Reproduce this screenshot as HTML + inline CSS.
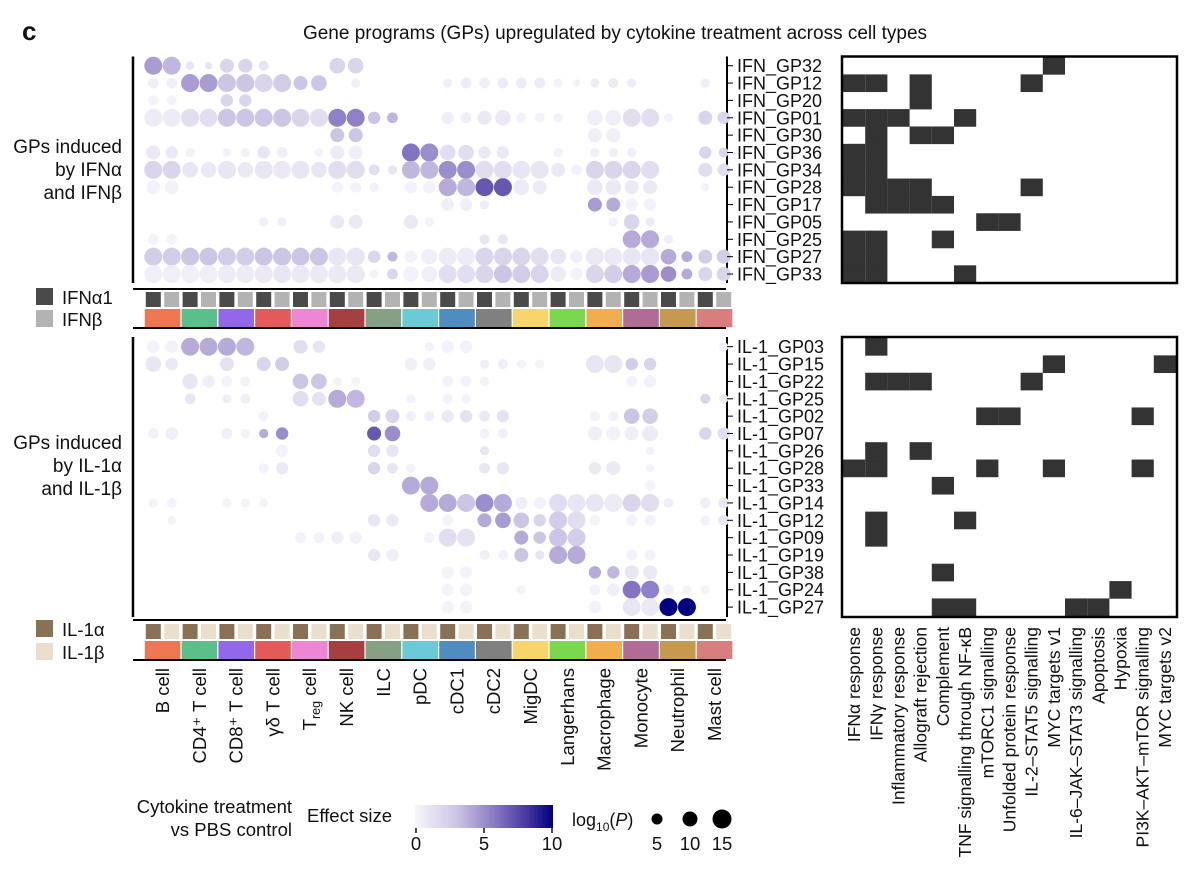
<!DOCTYPE html>
<html><head><meta charset="utf-8"><style>
html,body{margin:0;padding:0;background:#fff}
svg text{font-family:"Liberation Sans",sans-serif;fill:#111}
</style></head><body>
<svg id="fig" width="1200" height="891" viewBox="0 0 1200 891" xmlns="http://www.w3.org/2000/svg">
<text x="22" y="40" font-size="26" font-weight="bold">c</text>
<text x="615" y="39" font-size="19" text-anchor="middle">Gene programs (GPs) upregulated by cytokine treatment across cell types</text>
<g font-size="19" text-anchor="end">
<text x="122" y="153">GPs induced</text><text x="122" y="176">by IFNα</text><text x="122" y="199">and IFNβ</text></g>
<g font-size="19" text-anchor="end">
<text x="122" y="449">GPs induced</text><text x="122" y="472">by IL-1α</text><text x="122" y="495">and IL-1β</text></g>
<g>
<rect x="36" y="288" width="17" height="17" fill="#4a4a4a"/><text x="62" y="304" font-size="18.5">IFNα1</text>
<rect x="36" y="310" width="17" height="17" fill="#b3b3b3"/><text x="62" y="326" font-size="18.5">IFNβ</text></g>
<g>
<rect x="36" y="620" width="17" height="17" fill="#8a7156"/><text x="62" y="636" font-size="18.5">IL-1α</text>
<rect x="36" y="643" width="17" height="17" fill="#eadfcc"/><text x="62" y="659" font-size="18.5">IL-1β</text></g>
<g id="plot"></g>
<g>
<text x="292" y="813" font-size="18.5" text-anchor="end">Cytokine treatment</text>
<text x="292" y="836" font-size="18.5" text-anchor="end">vs PBS control</text>
<text x="307" y="822" font-size="18.5">Effect size</text>
<defs><linearGradient id="grad" x1="0" x2="1" y1="0" y2="0">
<stop offset="0" stop-color="#f7f6fb"/><stop offset="0.3" stop-color="#cdc5e4"/><stop offset="0.6" stop-color="#8473c0"/><stop offset="0.8" stop-color="#4b3aa0"/><stop offset="1" stop-color="#000080"/></linearGradient></defs>
<rect x="415" y="805" width="138" height="23" fill="url(#grad)"/>
<g stroke="#111" stroke-width="1.5"><line x1="416" y1="828" x2="416" y2="833"/><line x1="484" y1="828" x2="484" y2="833"/><line x1="552" y1="828" x2="552" y2="833"/></g>
<g font-size="18.5" text-anchor="middle"><text x="416" y="850">0</text><text x="484" y="850">5</text><text x="552" y="850">10</text></g>
<text x="572" y="826" font-size="18">log<tspan font-size="12" dy="5">10</tspan><tspan dy="-5">(</tspan><tspan font-style="italic">P</tspan>)</text>
<circle cx="657" cy="819" r="5.5" fill="#000"/><circle cx="690" cy="819" r="7.5" fill="#000"/><circle cx="722" cy="819" r="9.5" fill="#000"/>
<g font-size="18.5" text-anchor="middle"><text x="657" y="850">5</text><text x="690" y="850">10</text><text x="722" y="850">15</text></g>
</g>
</svg>
<script>
const cellTypes=["B cell","CD4⁺ T cell","CD8⁺ T cell","γδ T cell","Treg cell","NK cell","ILC","pDC","cDC1","cDC2","MigDC","Langerhans","Macrophage","Monocyte","Neutrophil","Mast cell"];
const cellColors=["#ee7752","#5bbf8a","#9467e8","#e45a5a","#ee86d6","#a63f3f","#86a086","#6acbd6","#4f8cbf","#808080","#f7d56b","#7ad84f","#f2ae4e","#b06b97","#c69a4e","#d87e7e"];
const ifnRows=["IFN_GP32","IFN_GP12","IFN_GP20","IFN_GP01","IFN_GP30","IFN_GP36","IFN_GP34","IFN_GP28","IFN_GP17","IFN_GP05","IFN_GP25","IFN_GP27","IFN_GP33"];
const il1Rows=["IL-1_GP03","IL-1_GP15","IL-1_GP22","IL-1_GP25","IL-1_GP02","IL-1_GP07","IL-1_GP26","IL-1_GP28","IL-1_GP33","IL-1_GP14","IL-1_GP12","IL-1_GP09","IL-1_GP19","IL-1_GP38","IL-1_GP24","IL-1_GP27"];
const pathways=["IFNα response","IFNγ response","Inflammatory response","Allograft rejection","Complement","TNF signalling through NF-κB","mTORC1 signalling","Unfolded protein response","IL-2–STAT5 signalling","MYC targets v1","IL-6–JAK–STAT3 signalling","Apoptosis","Hypoxia","PI3K–AKT–mTOR signalling","MYC targets v2"];
// dots: [row, column, effect size, log10P]
const ifnDots=[
[0,0,4.5,15],[0,1,3.5,15],[0,2,1,3],[0,3,1,2],[0,4,2,10],[0,5,2,10],[0,6,1,5],[0,10,2,12],[0,11,2,12],
[1,0,0.5,6],[1,1,0.5,6],[1,2,4.5,15],[1,3,4.5,15],[1,4,3,15],[1,5,3,15],[1,6,2,15],[1,7,2.5,15],[1,8,3,10],[1,9,3,12],[1,11,0.5,4],[1,16,0.5,4],[1,17,0.7,6],[1,18,0.5,6],[1,19,0.7,6],[1,20,0.7,6],[1,21,0.7,6],[1,22,0.3,4],[1,23,0.3,2],[1,24,0.7,4],[1,25,0.7,5],[1,26,0.7,4],[1,30,0.5,4],
[2,0,0.3,5],[2,1,0.3,5],[2,4,2,8],[2,5,2,8],
[3,0,0.7,15],[3,1,0.7,15],[3,2,1.5,15],[3,3,1.5,15],[3,4,3,15],[3,5,3,15],[3,6,3,15],[3,7,3,15],[3,8,2,15],[3,9,1.5,15],[3,10,5.5,15],[3,11,5.5,15],[3,12,3,8],[3,13,3.5,6],[3,16,0.5,8],[3,17,0.5,6],[3,18,0.8,10],[3,19,0.8,12],[3,20,0.3,5],[3,21,0.3,5],[3,22,0.3,4],[3,24,0.5,12],[3,25,0.5,12],[3,26,1.5,15],[3,27,1.5,15],[3,28,0.3,4],[3,30,2,10],[3,31,2,8],
[4,10,3,10],[4,11,3,10],[4,24,0.5,10],[4,25,0.5,10],
[5,0,0.8,10],[5,1,0.8,8],[5,2,0.3,4],[5,4,0.3,3],[5,5,0.3,4],[5,6,1,8],[5,7,0.5,6],[5,9,0.3,3],[5,10,0.7,10],[5,11,0.5,10],[5,14,6,15],[5,15,5,15],[5,16,1.5,12],[5,17,1.5,12],[5,18,0.8,8],[5,19,0.8,8],[5,22,0.3,4],[5,24,0.5,4],[5,25,0.5,4],[5,26,0.5,4],[5,30,2,8],[5,31,2,5],
[6,0,2,15],[6,1,2,15],[6,2,1,12],[6,3,0.8,12],[6,4,1,15],[6,5,0.8,12],[6,6,1,15],[6,7,0.8,15],[6,8,1,15],[6,9,1,12],[6,10,1.5,15],[6,11,1.5,15],[6,12,1.5,6],[6,13,1,4],[6,14,3.5,15],[6,15,3.5,15],[6,16,5,15],[6,17,5,15],[6,18,1.5,15],[6,19,1.5,15],[6,20,1,15],[6,21,1,15],[6,22,0.8,10],[6,23,0.3,6],[6,24,2,15],[6,25,2,15],[6,26,2,15],[6,27,1.5,15],[6,30,1.5,10],[6,31,1.5,8],
[7,0,0.3,10],[7,1,0.3,10],[7,10,0.3,6],[7,11,0.3,6],[7,12,0.3,4],[7,14,0.3,8],[7,15,0.3,8],[7,16,4,15],[7,17,3.5,15],[7,18,7,15],[7,19,7,15],[7,20,0.7,12],[7,21,0.7,10],[7,24,0.8,12],[7,25,0.8,12],[7,26,0.8,10],[7,27,0.8,10],[7,30,0.3,3],
[8,16,0.5,8],[8,17,0.5,8],[8,18,0.5,4],[8,24,4.5,10],[8,25,4,10],[8,26,0.3,8],[8,27,0.3,8],
[9,6,0.5,4],[9,7,0.5,4],[9,10,0.8,10],[9,11,0.8,10],[9,14,0.8,10],[9,15,0.3,4],[9,25,0.3,4],[9,26,2,12],[9,27,0.7,4],
[10,0,0.2,6],[10,1,0.2,6],[10,18,1,5],[10,19,1,5],[10,26,4,15],[10,27,4,15],[10,28,0.5,4],
[11,0,2.5,15],[11,1,2.5,15],[11,2,3,15],[11,3,3,15],[11,4,2.5,15],[11,5,2.5,15],[11,6,3,15],[11,7,3,15],[11,8,3,15],[11,9,3,15],[11,10,1,15],[11,11,1,15],[11,12,2,8],[11,13,3.5,5],[11,14,0.3,8],[11,15,0.5,12],[11,16,0.7,15],[11,17,0.7,15],[11,18,2,15],[11,19,2,15],[11,20,2,15],[11,21,1.5,15],[11,22,1,12],[11,23,0.5,8],[11,24,0.8,15],[11,25,0.8,15],[11,26,1,15],[11,27,1,15],[11,28,4,12],[11,29,4,6],[11,30,2.5,10],[11,31,2.5,10],
[12,0,0.5,15],[12,1,0.5,15],[12,2,0.5,15],[12,3,0.5,15],[12,4,0.7,15],[12,5,0.7,15],[12,6,0.8,15],[12,7,1,15],[12,8,0.8,15],[12,9,0.8,15],[12,10,0.8,15],[12,11,0.8,15],[12,12,0.3,3],[12,13,2,6],[12,14,0.3,12],[12,15,0.5,12],[12,16,1.5,15],[12,17,1.5,15],[12,18,2,15],[12,19,3,15],[12,20,2.5,15],[12,21,2,15],[12,22,0.7,12],[12,23,0.3,8],[12,24,2,15],[12,25,2.5,15],[12,26,4,15],[12,27,4.5,15],[12,28,5,12],[12,29,4,6],[12,30,2,10],[12,31,2,10]];
const il1Dots=[
[0,0,0.3,8],[0,1,0.3,8],[0,2,4,15],[0,3,4,15],[0,4,4,15],[0,5,3.5,15],[0,8,1.5,10],[0,9,1,8],[0,15,0.3,4],[0,16,0.3,8],[0,17,0.3,8],[0,31,0.3,4],
[1,0,1,12],[1,1,0.8,8],[1,4,1.2,10],[1,6,2,10],[1,7,2.5,10],[1,14,0.5,8],[1,15,0.5,8],[1,18,0.5,4],[1,19,0.5,5],[1,20,0.2,4],[1,21,0.2,4],[1,24,1,15],[1,25,1,15],[1,26,2.5,8],[1,27,2,8],
[2,2,1,12],[2,3,0.5,8],[2,4,0.3,6],[2,5,0.3,5],[2,8,3,12],[2,9,3,12],[2,10,0.2,4],[2,11,0.2,4],[2,16,0.3,6],[2,17,0.3,6],[2,18,0.3,4],[2,26,0.3,6],[2,27,0.3,8],
[3,2,1,6],[3,4,0.5,4],[3,5,0.5,5],[3,8,1.5,12],[3,9,1.2,10],[3,10,4,15],[3,11,3.5,15],[3,14,0.3,4],[3,16,0.3,5],[3,17,0.3,4],[3,30,2,5],[3,31,0.8,4],
[4,6,0.3,5],[4,12,2.5,8],[4,13,2,10],[4,14,0.5,5],[4,15,0.5,5],[4,16,0.8,8],[4,17,1.2,8],[4,18,0.8,6],[4,19,1.2,8],[4,24,0.3,5],[4,25,0.3,5],[4,26,3,12],[4,27,2.5,12],
[5,0,0.3,6],[5,1,0.5,8],[5,4,0.5,6],[5,5,0.3,4],[5,6,4,4],[5,7,5,8],[5,12,7,10],[5,13,5,12],[5,18,0.3,5],[5,19,0.5,5],[5,24,0.5,10],[5,25,0.3,10],[5,26,0.5,10],[5,27,0.7,12],[5,30,2,8],[5,31,1.5,8],
[6,7,0.3,8],[6,12,1.5,8],[6,13,1,8],[6,18,1,4],[6,27,0.3,3],
[7,6,0.3,5],[7,7,0.8,8],[7,12,2,8],[7,13,1,6],[7,14,0.3,4],[7,18,1,6],[7,19,1,8],[7,24,0.8,8],[7,25,0.8,10],[7,27,0.3,3],
[8,14,4,15],[8,15,4,15],[8,27,0.2,6],
[9,0,0.2,4],[9,1,0.2,5],[9,4,0.2,4],[9,5,0.2,4],[9,6,0.2,3],[9,15,4,15],[9,16,4,15],[9,17,3,15],[9,18,5,15],[9,19,4,15],[9,20,0.5,8],[9,21,0.3,8],[9,22,1.5,15],[9,23,1,15],[9,24,1,15],[9,25,0.7,15],[9,26,2,15],[9,27,1.5,15],[9,28,0.5,5],[9,30,0.5,6],[9,31,1,6],
[10,1,0.2,3],[10,12,1,8],[10,13,0.8,8],[10,16,0.2,6],[10,18,4,10],[10,19,4.5,12],[10,20,3,12],[10,21,2,8],[10,22,2.5,15],[10,23,1.5,15],[10,24,0.2,6],[10,26,0.3,6],[10,27,0.3,6],[10,30,0.3,5],[10,31,1,6],
[11,8,0.3,6],[11,9,0.3,6],[11,10,0.5,8],[11,11,0.3,8],[11,15,0.2,6],[11,16,1.5,15],[11,17,1.2,15],[11,20,4,10],[11,21,3,8],[11,22,3,15],[11,23,2.5,15],
[12,12,1,8],[12,13,0.5,8],[12,18,0.5,5],[12,19,0.3,5],[12,20,3,10],[12,21,1,4],[12,22,4,15],[12,23,4,15],[12,26,0.3,6],[12,27,0.3,6],
[13,16,0.2,8],[13,17,0.2,8],[13,24,4,8],[13,25,3.5,8],[13,26,1,10],[13,27,0.8,10],
[14,16,0.2,8],[14,17,0.2,8],[14,20,0.2,4],[14,24,0.3,6],[14,25,0.5,8],[14,26,6,15],[14,27,5.5,15],[14,28,0.3,6],[14,29,0.3,4],[14,30,0.2,4],
[15,16,0.2,8],[15,17,0.2,8],[15,24,0.3,8],[15,26,1,15],[15,27,0.8,15],[15,28,10,15],[15,29,10,15]];
// pathway membership: [row, pathway index]
const ifnHits=[[0,9],[1,0],[1,1],[1,3],[1,8],[2,3],[3,0],[3,1],[3,2],[3,5],[4,1],[4,3],[4,4],[5,0],[5,1],[6,0],[6,1],[7,0],[7,1],[7,2],[7,3],[7,8],[8,1],[8,2],[8,3],[8,4],[9,6],[9,7],[10,0],[10,1],[10,4],[11,0],[11,1],[12,0],[12,1],[12,5]];
const il1Hits=[[0,1],[1,9],[1,14],[2,1],[2,2],[2,3],[2,8],[4,6],[4,7],[4,13],[6,1],[6,3],[7,0],[7,1],[7,6],[7,9],[7,13],[8,4],[10,1],[10,5],[11,1],[13,4],[14,12],[15,4],[15,5],[15,10],[15,11]];

const NS="http://www.w3.org/2000/svg";
const plot=document.getElementById('plot');
function mk(tag,attrs,parent){const e=document.createElementNS(NS,tag);for(const k in attrs)e.setAttribute(k,attrs[k]);(parent||plot).appendChild(e);return e;}
const colX=c=>153.3+18.4*c;
const rStep=17.36;
const rad=p=>3+0.4*p;
const stops=[[0,[247,246,251]],[3,[205,197,228]],[6,[132,115,192]],[8,[75,58,160]],[10,[0,0,128]]];
function colorOf(v){v=Math.max(0,Math.min(10,v));for(let i=1;i<stops.length;i++){if(v<=stops[i][0]){const a=stops[i-1],b=stops[i],t=(v-a[0])/(b[0]-a[0]);return 'rgb('+a[1].map((x,j)=>Math.round(x+(b[1][j]-x)*t)).join(',')+')';}}return 'rgb(0,0,128)';}
const mX0=843,mW=22.2;
function panel(name,rows,dots,hits,y0,boxTop,boxBot,lineY,stripY,cyt){
  const g=mk('g',{});
  
  
  const rowY=i=>y0+rStep*i;
  mk('line',{x1:133,y1:boxTop,x2:133,y2:boxBot,stroke:'#000','stroke-width':2.5},g);
  mk('line',{x1:133,y1:lineY,x2:726,y2:lineY,stroke:'#000','stroke-width':2},g);
  mk('line',{x1:727,y1:boxTop,x2:727,y2:boxBot,stroke:'#000','stroke-width':2},g);
  dots.forEach(d=>{const c=mk('circle',{cx:colX(d[1]),cy:rowY(d[0]),r:rad(d[3]),fill:colorOf(d[2])},g);
    
    });
  rows.forEach((r,i)=>{mk('line',{x1:727,y1:rowY(i),x2:733,y2:rowY(i),stroke:'#000','stroke-width':1},g);
    const t=mk('text',{x:737,y:rowY(i)+6.5,'font-size':18},g);t.textContent=r;
    
    });
  for(let k=0;k<16;k++){
    for(let s=0;s<2;s++){const q=mk('rect',{x:colX(2*k+s)-7.5,y:stripY,width:15,height:15,fill:cyt[s]},g);
      
      }
    const cr=mk('rect',{x:colX(2*k)-8.5,y:stripY+17,width:35.6,height:18,fill:cellColors[k]},g);
    
    
  }
  mk('line',{x1:133,y1:stripY+36,x2:726,y2:stripY+36,stroke:'#000','stroke-width':2},g);
  const m=mk('g',{});
  
  
  hits.forEach(h=>{const q=mk('rect',{x:mX0+mW*h[1],y:rowY(h[0])-rStep/2,width:mW,height:rStep+0.3,fill:'#333'},m);
    
    });
  mk('rect',{x:842,y:boxTop,width:335,height:boxBot-boxTop,fill:'none',stroke:'#000','stroke-width':2.5},m);
}
panel('ifn',ifnRows,ifnDots,ifnHits,65.7,56.5,283,289,292,['#4a4a4a','#b3b3b3']);
panel('il1',il1Rows,il1Dots,il1Hits,346.7,337,617,620,624,['#8a7156','#eadfcc']);
cellTypes.forEach((c,k)=>{const x=colX(2*k)+9.2+6.5;const t=mk('text',{x:0,y:0,'font-size':18.5,'text-anchor':'end',transform:'translate('+x+',668) rotate(-90)'});
  if(c==='Treg cell'){t.innerHTML='T<tspan font-size="12.5" dy="4">reg</tspan><tspan dy="-4"> cell</tspan>';}else t.textContent=c;
  
  });
pathways.forEach((p,j)=>{const x=mX0+mW*(j+0.5)+6;const t=mk('text',{x:0,y:0,'font-size':17.5,'text-anchor':'end',transform:'translate('+x+',627) rotate(-90)'});t.textContent=p;
  
  });
</script>
</body></html>
